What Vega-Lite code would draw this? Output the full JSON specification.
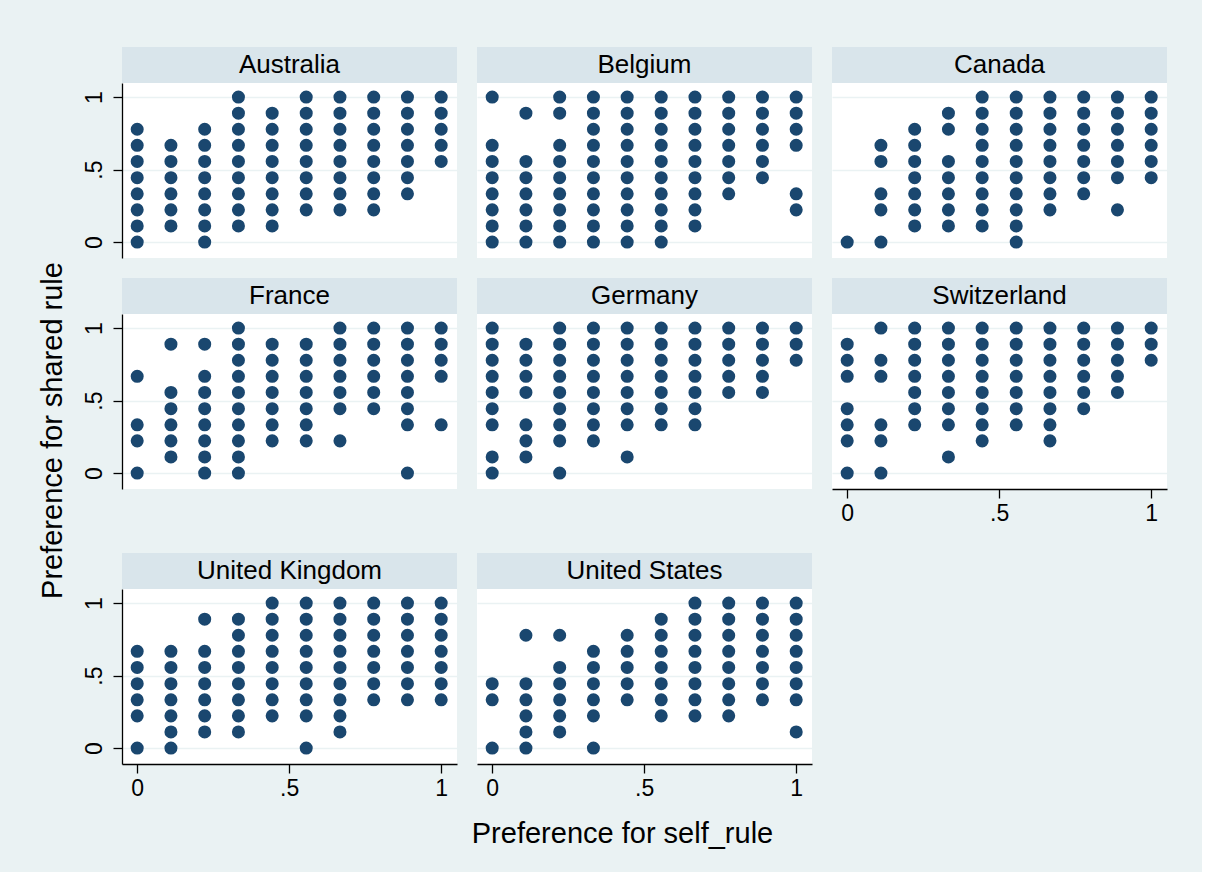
{
"$schema":"https://vega.github.io/schema/vega-lite/v6.json",
"background":"#eaf2f3",
"padding":{"left":38,"top":47,"right":35,"bottom":24},
"title":{"text":"Preference for shared rule","orient":"left","anchor":"middle","fontSize":29,"fontWeight":"normal","color":"#000","offset":15,"dx":17},
"config":{"font":"Liberation Sans","view":{"fill":"#ffffff","stroke":null},
"axis":{"domainColor":"#000","domainWidth":1.3,"tickColor":"#000","tickWidth":1.3,"tickSize":9,"labelFontSize":23,"labelColor":"#000","gridColor":"#eaf2f3","gridWidth":1.4,"titleFontWeight":"normal","titleColor":"#000"}},
"datasets":{"pts":[
{"c":"AU","x":0,"y":0},{"c":"AU","x":0,"y":0.111},{"c":"AU","x":0,"y":0.222},{"c":"AU","x":0,"y":0.333},{"c":"AU","x":0,"y":0.444},{"c":"AU","x":0,"y":0.556},{"c":"AU","x":0,"y":0.667},{"c":"AU","x":0,"y":0.778},
{"c":"AU","x":0.111,"y":0.111},{"c":"AU","x":0.111,"y":0.222},{"c":"AU","x":0.111,"y":0.333},{"c":"AU","x":0.111,"y":0.444},{"c":"AU","x":0.111,"y":0.556},{"c":"AU","x":0.111,"y":0.667},
{"c":"AU","x":0.222,"y":0},{"c":"AU","x":0.222,"y":0.111},{"c":"AU","x":0.222,"y":0.222},{"c":"AU","x":0.222,"y":0.333},{"c":"AU","x":0.222,"y":0.444},{"c":"AU","x":0.222,"y":0.556},{"c":"AU","x":0.222,"y":0.667},{"c":"AU","x":0.222,"y":0.778},
{"c":"AU","x":0.333,"y":0.111},{"c":"AU","x":0.333,"y":0.222},{"c":"AU","x":0.333,"y":0.333},{"c":"AU","x":0.333,"y":0.444},{"c":"AU","x":0.333,"y":0.556},{"c":"AU","x":0.333,"y":0.667},{"c":"AU","x":0.333,"y":0.778},{"c":"AU","x":0.333,"y":0.889},{"c":"AU","x":0.333,"y":1},
{"c":"AU","x":0.444,"y":0.111},{"c":"AU","x":0.444,"y":0.222},{"c":"AU","x":0.444,"y":0.333},{"c":"AU","x":0.444,"y":0.444},{"c":"AU","x":0.444,"y":0.556},{"c":"AU","x":0.444,"y":0.667},{"c":"AU","x":0.444,"y":0.778},{"c":"AU","x":0.444,"y":0.889},
{"c":"AU","x":0.556,"y":0.222},{"c":"AU","x":0.556,"y":0.333},{"c":"AU","x":0.556,"y":0.444},{"c":"AU","x":0.556,"y":0.556},{"c":"AU","x":0.556,"y":0.667},{"c":"AU","x":0.556,"y":0.778},{"c":"AU","x":0.556,"y":0.889},{"c":"AU","x":0.556,"y":1},
{"c":"AU","x":0.667,"y":0.222},{"c":"AU","x":0.667,"y":0.333},{"c":"AU","x":0.667,"y":0.444},{"c":"AU","x":0.667,"y":0.556},{"c":"AU","x":0.667,"y":0.667},{"c":"AU","x":0.667,"y":0.778},{"c":"AU","x":0.667,"y":0.889},{"c":"AU","x":0.667,"y":1},
{"c":"AU","x":0.778,"y":0.222},{"c":"AU","x":0.778,"y":0.333},{"c":"AU","x":0.778,"y":0.444},{"c":"AU","x":0.778,"y":0.556},{"c":"AU","x":0.778,"y":0.667},{"c":"AU","x":0.778,"y":0.778},{"c":"AU","x":0.778,"y":0.889},{"c":"AU","x":0.778,"y":1},
{"c":"AU","x":0.889,"y":0.333},{"c":"AU","x":0.889,"y":0.444},{"c":"AU","x":0.889,"y":0.556},{"c":"AU","x":0.889,"y":0.667},{"c":"AU","x":0.889,"y":0.778},{"c":"AU","x":0.889,"y":0.889},{"c":"AU","x":0.889,"y":1},
{"c":"AU","x":1,"y":0.556},{"c":"AU","x":1,"y":0.667},{"c":"AU","x":1,"y":0.778},{"c":"AU","x":1,"y":0.889},{"c":"AU","x":1,"y":1},

{"c":"BE","x":0,"y":0},{"c":"BE","x":0,"y":0.111},{"c":"BE","x":0,"y":0.222},{"c":"BE","x":0,"y":0.333},{"c":"BE","x":0,"y":0.444},{"c":"BE","x":0,"y":0.556},{"c":"BE","x":0,"y":0.667},{"c":"BE","x":0,"y":1},
{"c":"BE","x":0.111,"y":0},{"c":"BE","x":0.111,"y":0.111},{"c":"BE","x":0.111,"y":0.222},{"c":"BE","x":0.111,"y":0.333},{"c":"BE","x":0.111,"y":0.444},{"c":"BE","x":0.111,"y":0.556},{"c":"BE","x":0.111,"y":0.889},
{"c":"BE","x":0.222,"y":0},{"c":"BE","x":0.222,"y":0.111},{"c":"BE","x":0.222,"y":0.222},{"c":"BE","x":0.222,"y":0.333},{"c":"BE","x":0.222,"y":0.444},{"c":"BE","x":0.222,"y":0.556},{"c":"BE","x":0.222,"y":0.667},{"c":"BE","x":0.222,"y":0.889},{"c":"BE","x":0.222,"y":1},
{"c":"BE","x":0.333,"y":0},{"c":"BE","x":0.333,"y":0.111},{"c":"BE","x":0.333,"y":0.222},{"c":"BE","x":0.333,"y":0.333},{"c":"BE","x":0.333,"y":0.444},{"c":"BE","x":0.333,"y":0.556},{"c":"BE","x":0.333,"y":0.667},{"c":"BE","x":0.333,"y":0.778},{"c":"BE","x":0.333,"y":0.889},{"c":"BE","x":0.333,"y":1},
{"c":"BE","x":0.444,"y":0},{"c":"BE","x":0.444,"y":0.111},{"c":"BE","x":0.444,"y":0.222},{"c":"BE","x":0.444,"y":0.333},{"c":"BE","x":0.444,"y":0.444},{"c":"BE","x":0.444,"y":0.556},{"c":"BE","x":0.444,"y":0.667},{"c":"BE","x":0.444,"y":0.778},{"c":"BE","x":0.444,"y":0.889},{"c":"BE","x":0.444,"y":1},
{"c":"BE","x":0.556,"y":0},{"c":"BE","x":0.556,"y":0.111},{"c":"BE","x":0.556,"y":0.222},{"c":"BE","x":0.556,"y":0.333},{"c":"BE","x":0.556,"y":0.444},{"c":"BE","x":0.556,"y":0.556},{"c":"BE","x":0.556,"y":0.667},{"c":"BE","x":0.556,"y":0.778},{"c":"BE","x":0.556,"y":0.889},{"c":"BE","x":0.556,"y":1},
{"c":"BE","x":0.667,"y":0.111},{"c":"BE","x":0.667,"y":0.222},{"c":"BE","x":0.667,"y":0.333},{"c":"BE","x":0.667,"y":0.444},{"c":"BE","x":0.667,"y":0.556},{"c":"BE","x":0.667,"y":0.667},{"c":"BE","x":0.667,"y":0.778},{"c":"BE","x":0.667,"y":0.889},{"c":"BE","x":0.667,"y":1},
{"c":"BE","x":0.778,"y":0.333},{"c":"BE","x":0.778,"y":0.444},{"c":"BE","x":0.778,"y":0.556},{"c":"BE","x":0.778,"y":0.667},{"c":"BE","x":0.778,"y":0.778},{"c":"BE","x":0.778,"y":0.889},{"c":"BE","x":0.778,"y":1},
{"c":"BE","x":0.889,"y":0.444},{"c":"BE","x":0.889,"y":0.556},{"c":"BE","x":0.889,"y":0.667},{"c":"BE","x":0.889,"y":0.778},{"c":"BE","x":0.889,"y":0.889},{"c":"BE","x":0.889,"y":1},
{"c":"BE","x":1,"y":0.222},{"c":"BE","x":1,"y":0.333},{"c":"BE","x":1,"y":0.667},{"c":"BE","x":1,"y":0.778},{"c":"BE","x":1,"y":0.889},{"c":"BE","x":1,"y":1},

{"c":"CA","x":0,"y":0},
{"c":"CA","x":0.111,"y":0},{"c":"CA","x":0.111,"y":0.222},{"c":"CA","x":0.111,"y":0.333},{"c":"CA","x":0.111,"y":0.556},{"c":"CA","x":0.111,"y":0.667},
{"c":"CA","x":0.222,"y":0.111},{"c":"CA","x":0.222,"y":0.222},{"c":"CA","x":0.222,"y":0.333},{"c":"CA","x":0.222,"y":0.444},{"c":"CA","x":0.222,"y":0.556},{"c":"CA","x":0.222,"y":0.667},{"c":"CA","x":0.222,"y":0.778},
{"c":"CA","x":0.333,"y":0.111},{"c":"CA","x":0.333,"y":0.222},{"c":"CA","x":0.333,"y":0.333},{"c":"CA","x":0.333,"y":0.444},{"c":"CA","x":0.333,"y":0.556},{"c":"CA","x":0.333,"y":0.778},{"c":"CA","x":0.333,"y":0.889},
{"c":"CA","x":0.444,"y":0.111},{"c":"CA","x":0.444,"y":0.222},{"c":"CA","x":0.444,"y":0.333},{"c":"CA","x":0.444,"y":0.444},{"c":"CA","x":0.444,"y":0.556},{"c":"CA","x":0.444,"y":0.667},{"c":"CA","x":0.444,"y":0.778},{"c":"CA","x":0.444,"y":0.889},{"c":"CA","x":0.444,"y":1},
{"c":"CA","x":0.556,"y":0},{"c":"CA","x":0.556,"y":0.111},{"c":"CA","x":0.556,"y":0.222},{"c":"CA","x":0.556,"y":0.333},{"c":"CA","x":0.556,"y":0.444},{"c":"CA","x":0.556,"y":0.556},{"c":"CA","x":0.556,"y":0.667},{"c":"CA","x":0.556,"y":0.778},{"c":"CA","x":0.556,"y":0.889},{"c":"CA","x":0.556,"y":1},
{"c":"CA","x":0.667,"y":0.222},{"c":"CA","x":0.667,"y":0.333},{"c":"CA","x":0.667,"y":0.444},{"c":"CA","x":0.667,"y":0.556},{"c":"CA","x":0.667,"y":0.667},{"c":"CA","x":0.667,"y":0.778},{"c":"CA","x":0.667,"y":0.889},{"c":"CA","x":0.667,"y":1},
{"c":"CA","x":0.778,"y":0.333},{"c":"CA","x":0.778,"y":0.444},{"c":"CA","x":0.778,"y":0.556},{"c":"CA","x":0.778,"y":0.667},{"c":"CA","x":0.778,"y":0.778},{"c":"CA","x":0.778,"y":0.889},{"c":"CA","x":0.778,"y":1},
{"c":"CA","x":0.889,"y":0.222},{"c":"CA","x":0.889,"y":0.444},{"c":"CA","x":0.889,"y":0.556},{"c":"CA","x":0.889,"y":0.667},{"c":"CA","x":0.889,"y":0.778},{"c":"CA","x":0.889,"y":0.889},{"c":"CA","x":0.889,"y":1},
{"c":"CA","x":1,"y":0.444},{"c":"CA","x":1,"y":0.556},{"c":"CA","x":1,"y":0.667},{"c":"CA","x":1,"y":0.778},{"c":"CA","x":1,"y":0.889},{"c":"CA","x":1,"y":1},

{"c":"FR","x":0,"y":0},{"c":"FR","x":0,"y":0.222},{"c":"FR","x":0,"y":0.333},{"c":"FR","x":0,"y":0.667},
{"c":"FR","x":0.111,"y":0.111},{"c":"FR","x":0.111,"y":0.222},{"c":"FR","x":0.111,"y":0.333},{"c":"FR","x":0.111,"y":0.444},{"c":"FR","x":0.111,"y":0.556},{"c":"FR","x":0.111,"y":0.889},
{"c":"FR","x":0.222,"y":0},{"c":"FR","x":0.222,"y":0.111},{"c":"FR","x":0.222,"y":0.222},{"c":"FR","x":0.222,"y":0.333},{"c":"FR","x":0.222,"y":0.444},{"c":"FR","x":0.222,"y":0.556},{"c":"FR","x":0.222,"y":0.667},{"c":"FR","x":0.222,"y":0.889},
{"c":"FR","x":0.333,"y":0},{"c":"FR","x":0.333,"y":0.111},{"c":"FR","x":0.333,"y":0.222},{"c":"FR","x":0.333,"y":0.333},{"c":"FR","x":0.333,"y":0.444},{"c":"FR","x":0.333,"y":0.556},{"c":"FR","x":0.333,"y":0.667},{"c":"FR","x":0.333,"y":0.778},{"c":"FR","x":0.333,"y":0.889},{"c":"FR","x":0.333,"y":1},
{"c":"FR","x":0.444,"y":0.222},{"c":"FR","x":0.444,"y":0.333},{"c":"FR","x":0.444,"y":0.444},{"c":"FR","x":0.444,"y":0.556},{"c":"FR","x":0.444,"y":0.667},{"c":"FR","x":0.444,"y":0.778},{"c":"FR","x":0.444,"y":0.889},
{"c":"FR","x":0.556,"y":0.222},{"c":"FR","x":0.556,"y":0.333},{"c":"FR","x":0.556,"y":0.444},{"c":"FR","x":0.556,"y":0.556},{"c":"FR","x":0.556,"y":0.667},{"c":"FR","x":0.556,"y":0.778},{"c":"FR","x":0.556,"y":0.889},
{"c":"FR","x":0.667,"y":0.222},{"c":"FR","x":0.667,"y":0.444},{"c":"FR","x":0.667,"y":0.556},{"c":"FR","x":0.667,"y":0.667},{"c":"FR","x":0.667,"y":0.778},{"c":"FR","x":0.667,"y":0.889},{"c":"FR","x":0.667,"y":1},
{"c":"FR","x":0.778,"y":0.444},{"c":"FR","x":0.778,"y":0.556},{"c":"FR","x":0.778,"y":0.667},{"c":"FR","x":0.778,"y":0.778},{"c":"FR","x":0.778,"y":0.889},{"c":"FR","x":0.778,"y":1},
{"c":"FR","x":0.889,"y":0},{"c":"FR","x":0.889,"y":0.333},{"c":"FR","x":0.889,"y":0.444},{"c":"FR","x":0.889,"y":0.556},{"c":"FR","x":0.889,"y":0.667},{"c":"FR","x":0.889,"y":0.778},{"c":"FR","x":0.889,"y":0.889},{"c":"FR","x":0.889,"y":1},
{"c":"FR","x":1,"y":0.333},{"c":"FR","x":1,"y":0.667},{"c":"FR","x":1,"y":0.778},{"c":"FR","x":1,"y":0.889},{"c":"FR","x":1,"y":1},

{"c":"DE","x":0,"y":0},{"c":"DE","x":0,"y":0.111},{"c":"DE","x":0,"y":0.333},{"c":"DE","x":0,"y":0.444},{"c":"DE","x":0,"y":0.556},{"c":"DE","x":0,"y":0.667},{"c":"DE","x":0,"y":0.778},{"c":"DE","x":0,"y":0.889},{"c":"DE","x":0,"y":1},
{"c":"DE","x":0.111,"y":0.111},{"c":"DE","x":0.111,"y":0.222},{"c":"DE","x":0.111,"y":0.333},{"c":"DE","x":0.111,"y":0.556},{"c":"DE","x":0.111,"y":0.667},{"c":"DE","x":0.111,"y":0.778},{"c":"DE","x":0.111,"y":0.889},
{"c":"DE","x":0.222,"y":0},{"c":"DE","x":0.222,"y":0.222},{"c":"DE","x":0.222,"y":0.333},{"c":"DE","x":0.222,"y":0.444},{"c":"DE","x":0.222,"y":0.556},{"c":"DE","x":0.222,"y":0.667},{"c":"DE","x":0.222,"y":0.778},{"c":"DE","x":0.222,"y":0.889},{"c":"DE","x":0.222,"y":1},
{"c":"DE","x":0.333,"y":0.222},{"c":"DE","x":0.333,"y":0.333},{"c":"DE","x":0.333,"y":0.444},{"c":"DE","x":0.333,"y":0.556},{"c":"DE","x":0.333,"y":0.667},{"c":"DE","x":0.333,"y":0.778},{"c":"DE","x":0.333,"y":0.889},{"c":"DE","x":0.333,"y":1},
{"c":"DE","x":0.444,"y":0.111},{"c":"DE","x":0.444,"y":0.333},{"c":"DE","x":0.444,"y":0.444},{"c":"DE","x":0.444,"y":0.556},{"c":"DE","x":0.444,"y":0.667},{"c":"DE","x":0.444,"y":0.778},{"c":"DE","x":0.444,"y":0.889},{"c":"DE","x":0.444,"y":1},
{"c":"DE","x":0.556,"y":0.333},{"c":"DE","x":0.556,"y":0.444},{"c":"DE","x":0.556,"y":0.556},{"c":"DE","x":0.556,"y":0.667},{"c":"DE","x":0.556,"y":0.778},{"c":"DE","x":0.556,"y":0.889},{"c":"DE","x":0.556,"y":1},
{"c":"DE","x":0.667,"y":0.333},{"c":"DE","x":0.667,"y":0.444},{"c":"DE","x":0.667,"y":0.556},{"c":"DE","x":0.667,"y":0.667},{"c":"DE","x":0.667,"y":0.778},{"c":"DE","x":0.667,"y":0.889},{"c":"DE","x":0.667,"y":1},
{"c":"DE","x":0.778,"y":0.556},{"c":"DE","x":0.778,"y":0.667},{"c":"DE","x":0.778,"y":0.778},{"c":"DE","x":0.778,"y":0.889},{"c":"DE","x":0.778,"y":1},
{"c":"DE","x":0.889,"y":0.556},{"c":"DE","x":0.889,"y":0.667},{"c":"DE","x":0.889,"y":0.778},{"c":"DE","x":0.889,"y":0.889},{"c":"DE","x":0.889,"y":1},
{"c":"DE","x":1,"y":0.778},{"c":"DE","x":1,"y":0.889},{"c":"DE","x":1,"y":1},

{"c":"CH","x":0,"y":0},{"c":"CH","x":0,"y":0.222},{"c":"CH","x":0,"y":0.333},{"c":"CH","x":0,"y":0.444},{"c":"CH","x":0,"y":0.667},{"c":"CH","x":0,"y":0.778},{"c":"CH","x":0,"y":0.889},
{"c":"CH","x":0.111,"y":0},{"c":"CH","x":0.111,"y":0.222},{"c":"CH","x":0.111,"y":0.333},{"c":"CH","x":0.111,"y":0.667},{"c":"CH","x":0.111,"y":0.778},{"c":"CH","x":0.111,"y":1},
{"c":"CH","x":0.222,"y":0.333},{"c":"CH","x":0.222,"y":0.444},{"c":"CH","x":0.222,"y":0.556},{"c":"CH","x":0.222,"y":0.667},{"c":"CH","x":0.222,"y":0.778},{"c":"CH","x":0.222,"y":0.889},{"c":"CH","x":0.222,"y":1},
{"c":"CH","x":0.333,"y":0.111},{"c":"CH","x":0.333,"y":0.333},{"c":"CH","x":0.333,"y":0.444},{"c":"CH","x":0.333,"y":0.556},{"c":"CH","x":0.333,"y":0.667},{"c":"CH","x":0.333,"y":0.778},{"c":"CH","x":0.333,"y":0.889},{"c":"CH","x":0.333,"y":1},
{"c":"CH","x":0.444,"y":0.222},{"c":"CH","x":0.444,"y":0.333},{"c":"CH","x":0.444,"y":0.444},{"c":"CH","x":0.444,"y":0.556},{"c":"CH","x":0.444,"y":0.667},{"c":"CH","x":0.444,"y":0.778},{"c":"CH","x":0.444,"y":0.889},{"c":"CH","x":0.444,"y":1},
{"c":"CH","x":0.556,"y":0.333},{"c":"CH","x":0.556,"y":0.444},{"c":"CH","x":0.556,"y":0.556},{"c":"CH","x":0.556,"y":0.667},{"c":"CH","x":0.556,"y":0.778},{"c":"CH","x":0.556,"y":0.889},{"c":"CH","x":0.556,"y":1},
{"c":"CH","x":0.667,"y":0.222},{"c":"CH","x":0.667,"y":0.333},{"c":"CH","x":0.667,"y":0.444},{"c":"CH","x":0.667,"y":0.556},{"c":"CH","x":0.667,"y":0.667},{"c":"CH","x":0.667,"y":0.778},{"c":"CH","x":0.667,"y":0.889},{"c":"CH","x":0.667,"y":1},
{"c":"CH","x":0.778,"y":0.444},{"c":"CH","x":0.778,"y":0.556},{"c":"CH","x":0.778,"y":0.667},{"c":"CH","x":0.778,"y":0.778},{"c":"CH","x":0.778,"y":0.889},{"c":"CH","x":0.778,"y":1},
{"c":"CH","x":0.889,"y":0.556},{"c":"CH","x":0.889,"y":0.667},{"c":"CH","x":0.889,"y":0.778},{"c":"CH","x":0.889,"y":0.889},{"c":"CH","x":0.889,"y":1},
{"c":"CH","x":1,"y":0.778},{"c":"CH","x":1,"y":0.889},{"c":"CH","x":1,"y":1},

{"c":"GB","x":0,"y":0},{"c":"GB","x":0,"y":0.222},{"c":"GB","x":0,"y":0.333},{"c":"GB","x":0,"y":0.444},{"c":"GB","x":0,"y":0.556},{"c":"GB","x":0,"y":0.667},
{"c":"GB","x":0.111,"y":0},{"c":"GB","x":0.111,"y":0.111},{"c":"GB","x":0.111,"y":0.222},{"c":"GB","x":0.111,"y":0.333},{"c":"GB","x":0.111,"y":0.444},{"c":"GB","x":0.111,"y":0.556},{"c":"GB","x":0.111,"y":0.667},
{"c":"GB","x":0.222,"y":0.111},{"c":"GB","x":0.222,"y":0.222},{"c":"GB","x":0.222,"y":0.333},{"c":"GB","x":0.222,"y":0.444},{"c":"GB","x":0.222,"y":0.556},{"c":"GB","x":0.222,"y":0.667},{"c":"GB","x":0.222,"y":0.889},
{"c":"GB","x":0.333,"y":0.111},{"c":"GB","x":0.333,"y":0.222},{"c":"GB","x":0.333,"y":0.333},{"c":"GB","x":0.333,"y":0.444},{"c":"GB","x":0.333,"y":0.556},{"c":"GB","x":0.333,"y":0.667},{"c":"GB","x":0.333,"y":0.778},{"c":"GB","x":0.333,"y":0.889},
{"c":"GB","x":0.444,"y":0.222},{"c":"GB","x":0.444,"y":0.333},{"c":"GB","x":0.444,"y":0.444},{"c":"GB","x":0.444,"y":0.556},{"c":"GB","x":0.444,"y":0.667},{"c":"GB","x":0.444,"y":0.778},{"c":"GB","x":0.444,"y":0.889},{"c":"GB","x":0.444,"y":1},
{"c":"GB","x":0.556,"y":0},{"c":"GB","x":0.556,"y":0.222},{"c":"GB","x":0.556,"y":0.333},{"c":"GB","x":0.556,"y":0.444},{"c":"GB","x":0.556,"y":0.556},{"c":"GB","x":0.556,"y":0.667},{"c":"GB","x":0.556,"y":0.778},{"c":"GB","x":0.556,"y":0.889},{"c":"GB","x":0.556,"y":1},
{"c":"GB","x":0.667,"y":0.111},{"c":"GB","x":0.667,"y":0.222},{"c":"GB","x":0.667,"y":0.333},{"c":"GB","x":0.667,"y":0.444},{"c":"GB","x":0.667,"y":0.556},{"c":"GB","x":0.667,"y":0.667},{"c":"GB","x":0.667,"y":0.778},{"c":"GB","x":0.667,"y":0.889},{"c":"GB","x":0.667,"y":1},
{"c":"GB","x":0.778,"y":0.333},{"c":"GB","x":0.778,"y":0.444},{"c":"GB","x":0.778,"y":0.556},{"c":"GB","x":0.778,"y":0.667},{"c":"GB","x":0.778,"y":0.778},{"c":"GB","x":0.778,"y":0.889},{"c":"GB","x":0.778,"y":1},
{"c":"GB","x":0.889,"y":0.333},{"c":"GB","x":0.889,"y":0.444},{"c":"GB","x":0.889,"y":0.556},{"c":"GB","x":0.889,"y":0.667},{"c":"GB","x":0.889,"y":0.778},{"c":"GB","x":0.889,"y":0.889},{"c":"GB","x":0.889,"y":1},
{"c":"GB","x":1,"y":0.333},{"c":"GB","x":1,"y":0.444},{"c":"GB","x":1,"y":0.556},{"c":"GB","x":1,"y":0.667},{"c":"GB","x":1,"y":0.778},{"c":"GB","x":1,"y":0.889},{"c":"GB","x":1,"y":1},

{"c":"US","x":0,"y":0},{"c":"US","x":0,"y":0.333},{"c":"US","x":0,"y":0.444},
{"c":"US","x":0.111,"y":0},{"c":"US","x":0.111,"y":0.111},{"c":"US","x":0.111,"y":0.222},{"c":"US","x":0.111,"y":0.333},{"c":"US","x":0.111,"y":0.444},{"c":"US","x":0.111,"y":0.778},
{"c":"US","x":0.222,"y":0.111},{"c":"US","x":0.222,"y":0.222},{"c":"US","x":0.222,"y":0.333},{"c":"US","x":0.222,"y":0.444},{"c":"US","x":0.222,"y":0.556},{"c":"US","x":0.222,"y":0.778},
{"c":"US","x":0.333,"y":0},{"c":"US","x":0.333,"y":0.222},{"c":"US","x":0.333,"y":0.333},{"c":"US","x":0.333,"y":0.444},{"c":"US","x":0.333,"y":0.556},{"c":"US","x":0.333,"y":0.667},
{"c":"US","x":0.444,"y":0.333},{"c":"US","x":0.444,"y":0.444},{"c":"US","x":0.444,"y":0.556},{"c":"US","x":0.444,"y":0.667},{"c":"US","x":0.444,"y":0.778},
{"c":"US","x":0.556,"y":0.222},{"c":"US","x":0.556,"y":0.333},{"c":"US","x":0.556,"y":0.444},{"c":"US","x":0.556,"y":0.556},{"c":"US","x":0.556,"y":0.667},{"c":"US","x":0.556,"y":0.778},{"c":"US","x":0.556,"y":0.889},
{"c":"US","x":0.667,"y":0.222},{"c":"US","x":0.667,"y":0.333},{"c":"US","x":0.667,"y":0.444},{"c":"US","x":0.667,"y":0.556},{"c":"US","x":0.667,"y":0.667},{"c":"US","x":0.667,"y":0.778},{"c":"US","x":0.667,"y":0.889},{"c":"US","x":0.667,"y":1},
{"c":"US","x":0.778,"y":0.222},{"c":"US","x":0.778,"y":0.333},{"c":"US","x":0.778,"y":0.444},{"c":"US","x":0.778,"y":0.556},{"c":"US","x":0.778,"y":0.667},{"c":"US","x":0.778,"y":0.778},{"c":"US","x":0.778,"y":0.889},{"c":"US","x":0.778,"y":1},
{"c":"US","x":0.889,"y":0.333},{"c":"US","x":0.889,"y":0.444},{"c":"US","x":0.889,"y":0.556},{"c":"US","x":0.889,"y":0.667},{"c":"US","x":0.889,"y":0.778},{"c":"US","x":0.889,"y":0.889},{"c":"US","x":0.889,"y":1},
{"c":"US","x":1,"y":0.111},{"c":"US","x":1,"y":0.333},{"c":"US","x":1,"y":0.444},{"c":"US","x":1,"y":0.556},{"c":"US","x":1,"y":0.667},{"c":"US","x":1,"y":0.778},{"c":"US","x":1,"y":0.889},{"c":"US","x":1,"y":1}
]},
"spacing":28,
"vconcat":[
{"spacing":20,"vconcat":[
{"spacing":20,"hconcat":[
{"spacing":0,"vconcat":[
{"width":335,"height":36,"view":{"fill":"#d9e5eb","stroke":null},"data":{"values":[{"t":"Australia"}]},"mark":{"type":"text","fontSize":26,"color":"#000"},"encoding":{"text":{"field":"t"}}},
{"width":335,"height":175,"data":{"name":"pts"},"transform":[{"filter":"datum.c==='AU'"}],"mark":{"type":"circle","size":170,"color":"#1a476f","opacity":1},
"encoding":{"x":{"field":"x","type":"quantitative","scale":{"domain":[-0.05,1.052],"nice":false,"zero":false},"axis":null},
"y":{"field":"y","type":"quantitative","scale":{"domain":[-0.11,1.097],"nice":false,"zero":false},"axis":{"values":[0,0.5,1],"labelExpr":"datum.value===0.5?'.5':(datum.value===1?'1':'0')","labelFontSize":23,"labelAngle":270,"labelAlign":"center","labelBaseline":"bottom","labelPadding":7,"tickSize":9,"grid":true,"title":null}}}}
]},
{"spacing":0,"vconcat":[
{"width":335,"height":36,"view":{"fill":"#d9e5eb","stroke":null},"data":{"values":[{"t":"Belgium"}]},"mark":{"type":"text","fontSize":26,"color":"#000"},"encoding":{"text":{"field":"t"}}},
{"width":335,"height":175,"data":{"name":"pts"},"transform":[{"filter":"datum.c==='BE'"}],"mark":{"type":"circle","size":170,"color":"#1a476f","opacity":1},
"encoding":{"x":{"field":"x","type":"quantitative","scale":{"domain":[-0.05,1.052],"nice":false,"zero":false},"axis":null},
"y":{"field":"y","type":"quantitative","scale":{"domain":[-0.11,1.097],"nice":false,"zero":false},"axis":{"values":[0,0.5,1],"grid":true,"labels":false,"ticks":false,"domain":false,"title":null}}}}
]},
{"spacing":0,"vconcat":[
{"width":335,"height":36,"view":{"fill":"#d9e5eb","stroke":null},"data":{"values":[{"t":"Canada"}]},"mark":{"type":"text","fontSize":26,"color":"#000"},"encoding":{"text":{"field":"t"}}},
{"width":335,"height":175,"data":{"name":"pts"},"transform":[{"filter":"datum.c==='CA'"}],"mark":{"type":"circle","size":170,"color":"#1a476f","opacity":1},
"encoding":{"x":{"field":"x","type":"quantitative","scale":{"domain":[-0.05,1.052],"nice":false,"zero":false},"axis":null},
"y":{"field":"y","type":"quantitative","scale":{"domain":[-0.11,1.097],"nice":false,"zero":false},"axis":{"values":[0,0.5,1],"grid":true,"labels":false,"ticks":false,"domain":false,"title":null}}}}
]}
]},
{"spacing":20,"hconcat":[
{"spacing":0,"vconcat":[
{"width":335,"height":36,"view":{"fill":"#d9e5eb","stroke":null},"data":{"values":[{"t":"France"}]},"mark":{"type":"text","fontSize":26,"color":"#000"},"encoding":{"text":{"field":"t"}}},
{"width":335,"height":175,"data":{"name":"pts"},"transform":[{"filter":"datum.c==='FR'"}],"mark":{"type":"circle","size":170,"color":"#1a476f","opacity":1},
"encoding":{"x":{"field":"x","type":"quantitative","scale":{"domain":[-0.05,1.052],"nice":false,"zero":false},"axis":null},
"y":{"field":"y","type":"quantitative","scale":{"domain":[-0.11,1.097],"nice":false,"zero":false},"axis":{"values":[0,0.5,1],"labelExpr":"datum.value===0.5?'.5':(datum.value===1?'1':'0')","labelFontSize":23,"labelAngle":270,"labelAlign":"center","labelBaseline":"bottom","labelPadding":7,"tickSize":9,"grid":true,"title":null}}}}
]},
{"spacing":0,"vconcat":[
{"width":335,"height":36,"view":{"fill":"#d9e5eb","stroke":null},"data":{"values":[{"t":"Germany"}]},"mark":{"type":"text","fontSize":26,"color":"#000"},"encoding":{"text":{"field":"t"}}},
{"width":335,"height":175,"data":{"name":"pts"},"transform":[{"filter":"datum.c==='DE'"}],"mark":{"type":"circle","size":170,"color":"#1a476f","opacity":1},
"encoding":{"x":{"field":"x","type":"quantitative","scale":{"domain":[-0.05,1.052],"nice":false,"zero":false},"axis":null},
"y":{"field":"y","type":"quantitative","scale":{"domain":[-0.11,1.097],"nice":false,"zero":false},"axis":{"values":[0,0.5,1],"grid":true,"labels":false,"ticks":false,"domain":false,"title":null}}}}
]},
{"spacing":0,"vconcat":[
{"width":335,"height":36,"view":{"fill":"#d9e5eb","stroke":null},"data":{"values":[{"t":"Switzerland"}]},"mark":{"type":"text","fontSize":26,"color":"#000"},"encoding":{"text":{"field":"t"}}},
{"width":335,"height":175,"data":{"name":"pts"},"transform":[{"filter":"datum.c==='CH'"}],"mark":{"type":"circle","size":170,"color":"#1a476f","opacity":1},
"encoding":{"x":{"field":"x","type":"quantitative","scale":{"domain":[-0.05,1.052],"nice":false,"zero":false},"axis":{"values":[0,0.5,1],"labelExpr":"datum.value===0.5?'.5':(datum.value===1?'1':'0')","labelFontSize":23,"labelFlush":false,"labelPadding":4,"tickSize":9,"grid":false,"title":null}},
"y":{"field":"y","type":"quantitative","scale":{"domain":[-0.11,1.097],"nice":false,"zero":false},"axis":{"values":[0,0.5,1],"grid":true,"labels":false,"ticks":false,"domain":false,"title":null}}}}
]}
]}
]},
{"spacing":14,"hconcat":[
{"spacing":0,"vconcat":[
{"width":335,"height":36,"view":{"fill":"#d9e5eb","stroke":null},"data":{"values":[{"t":"United Kingdom"}]},"mark":{"type":"text","fontSize":26,"color":"#000"},"encoding":{"text":{"field":"t"}}},
{"width":335,"height":175,"data":{"name":"pts"},"transform":[{"filter":"datum.c==='GB'"}],"mark":{"type":"circle","size":170,"color":"#1a476f","opacity":1},
"encoding":{"x":{"field":"x","type":"quantitative","scale":{"domain":[-0.05,1.052],"nice":false,"zero":false},"axis":{"values":[0,0.5,1],"labelExpr":"datum.value===0.5?'.5':(datum.value===1?'1':'0')","labelFontSize":23,"labelFlush":false,"labelPadding":4,"tickSize":9,"grid":false,"title":null}},
"y":{"field":"y","type":"quantitative","scale":{"domain":[-0.11,1.097],"nice":false,"zero":false},"axis":{"values":[0,0.5,1],"labelExpr":"datum.value===0.5?'.5':(datum.value===1?'1':'0')","labelFontSize":23,"labelAngle":270,"labelAlign":"center","labelBaseline":"bottom","labelPadding":7,"tickSize":9,"grid":true,"title":null}}}}
]},
{"spacing":0,"vconcat":[
{"width":335,"height":36,"view":{"fill":"#d9e5eb","stroke":null},"data":{"values":[{"t":"United States"}]},"mark":{"type":"text","fontSize":26,"color":"#000"},"encoding":{"text":{"field":"t"}}},
{"width":335,"height":175,"data":{"name":"pts"},"transform":[{"filter":"datum.c==='US'"}],"mark":{"type":"circle","size":170,"color":"#1a476f","opacity":1},
"encoding":{"x":{"field":"x","type":"quantitative","scale":{"domain":[-0.05,1.052],"nice":false,"zero":false},"axis":{"values":[0,0.5,1],"labelExpr":"datum.value===0.5?'.5':(datum.value===1?'1':'0')","labelFontSize":23,"labelFlush":false,"labelPadding":4,"tickSize":9,"grid":false,"title":"Preference for self_rule","titleFontSize":29,"titleX":145,"titleY":78,"titleAlign":"center","titleBaseline":"alphabetic"}},
"y":{"field":"y","type":"quantitative","scale":{"domain":[-0.11,1.097],"nice":false,"zero":false},"axis":{"values":[0,0.5,1],"grid":true,"labels":false,"ticks":false,"domain":false,"title":null}}}}
]}
]}
]
}
